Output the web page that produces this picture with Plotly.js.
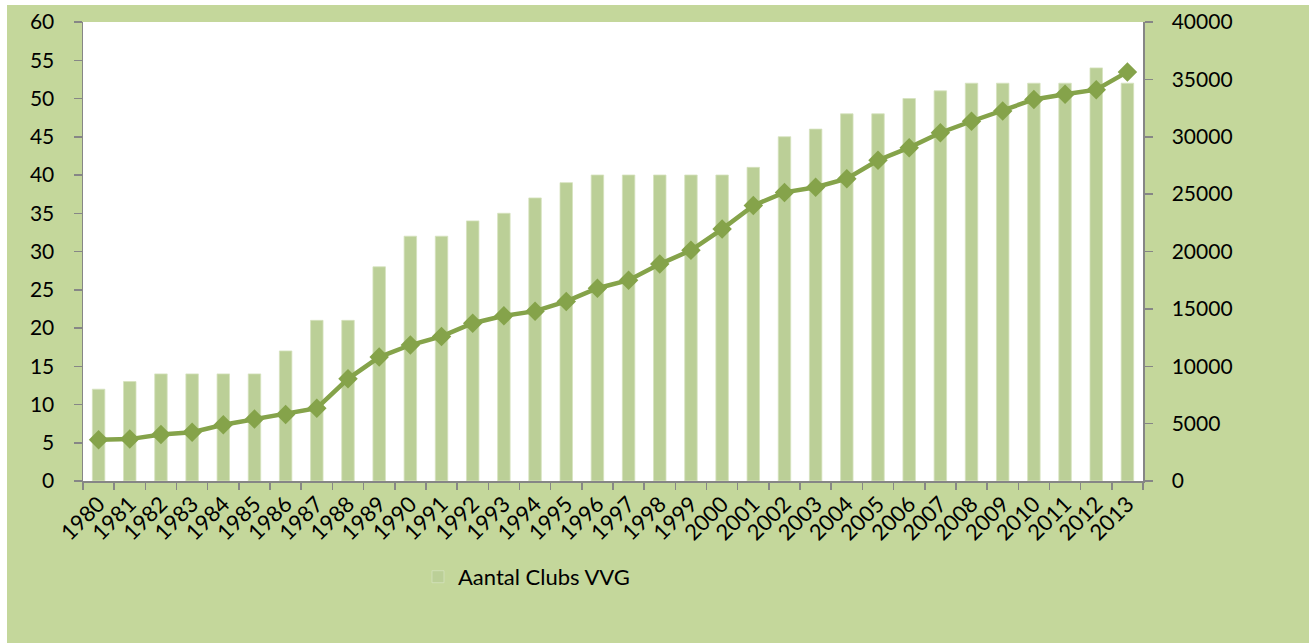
<!DOCTYPE html>
<html>
<head>
<meta charset="utf-8">
<script src="https://cdn.plot.ly/plotly-3.0.1.min.js"></script>
<style>html,body{margin:0;padding:0;background:#fff;}#chart{width:1309px;height:643px;}</style>
</head>
<body>
<div id="chart"></div>
<script>
const years = ["1980","1981","1982","1983","1984","1985","1986","1987","1988","1989","1990","1991","1992","1993","1994","1995","1996","1997","1998","1999","2000","2001","2002","2003","2004","2005","2006","2007","2008","2009","2010","2011","2012","2013"];
const clubs = [12,13,14,14,14,14,17,21,21,28,32,32,34,35,37,39,40,40,40,40,40,41,45,46,48,48,50,51,52,52,52,52,54,52];
const members = [3600,3650,4050,4250,4900,5400,5800,6350,8900,10800,11850,12600,13750,14400,14800,15650,16800,17500,18900,20100,21950,24000,25150,25600,26350,27950,29050,30350,31350,32250,33250,33700,34100,35650];
const barName = "Aantal Clubs VVG";
const lineName = "Aantal leden";

const FONT = "Lato, 'Open Sans', sans-serif";
const axisGray = "#868686";

const traces = [
  {
    type: "bar", x: years, y: clubs, name: barName, yaxis: "y",
    marker: {color: "#BBCF97", line: {color: "#D5E2BE", width: 0.8}}
  },
  {
    type: "scatter", mode: "lines+markers", x: years, y: members, name: lineName, yaxis: "y2",
    showlegend: false, cliponaxis: false,
    line: {color: "#85A34A", width: 4.5},
    marker: {symbol: "diamond", size: 15, color: "#85A34A"}
  }
];

const layout = {
  width: 1309, height: 643,
  margin: {l: 83, r: 166, t: 22, b: 162, pad: 0},
  paper_bgcolor: "#ffffff",
  plot_bgcolor: "#ffffff",
  font: {family: FONT, size: 21, color: "#000000"},
  bargap: 0.6,
  showlegend: true,
  legend: {
    x: 0.316, xanchor: "left", y: -0.209, yanchor: "middle",
    bgcolor: "rgba(0,0,0,0)", font: {family: FONT, size: 22, color: "#000"},
    orientation: "h"
  },
  xaxis: {
    type: "category", range: [-0.5, years.length - 0.5], autorange: false,
    tickangle: -45, showgrid: false, zeroline: false,
    showline: true, linecolor: axisGray, linewidth: 1.5,
    ticks: "outside", tickson: "boundaries", ticklen: 7, tickcolor: axisGray, tickwidth: 1.5,
    tickfont: {family: FONT, size: 22, color: "#000"}
  },
  yaxis: {
    range: [0, 60], dtick: 5, tick0: 0, showgrid: false, zeroline: false,
    showline: true, linecolor: axisGray, linewidth: 1.5,
    ticks: "outside", ticklen: 8, tickcolor: axisGray, tickwidth: 1.5,
    ticklabelstandoff: 15,
    tickfont: {family: FONT, size: 21, color: "#000"}
  },
  yaxis2: {
    range: [0, 40000], dtick: 5000, tick0: 0, overlaying: "y", side: "right",
    showgrid: false, zeroline: false,
    showline: true, linecolor: axisGray, linewidth: 1.5,
    ticks: "outside", ticklen: 8, tickcolor: axisGray, tickwidth: 1.5,
    ticklabelstandoff: 15, tickformat: "d",
    tickfont: {family: FONT, size: 21, color: "#000"}
  },
  shapes: [
    {type: "rect", xref: "paper", yref: "paper", x0: -0.0717, x1: 1.2, y0: -0.37, y1: 1.037,
     fillcolor: "#C4D79B", line: {width: 0}, layer: "below"},
    {type: "rect", xref: "paper", yref: "paper", x0: 0, x1: 1, y0: 0, y1: 1,
     fillcolor: "#ffffff", line: {width: 0}, layer: "below"}
  ]
};

Plotly.newPlot("chart", traces, layout, {displayModeBar: false, staticPlot: true});
</script>
</body>
</html>
